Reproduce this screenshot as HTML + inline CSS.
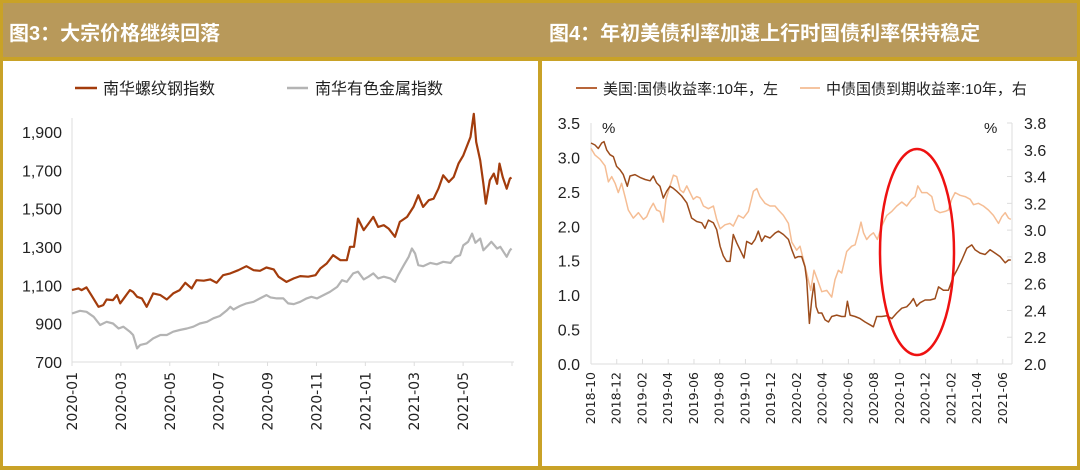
<!DOCTYPE html>
<html><head><meta charset="utf-8">
<style>
html,body{margin:0;padding:0;width:1080px;height:470px;overflow:hidden;background:#fff;}
svg{display:block;font-family:"Liberation Sans","Noto Sans CJK SC",sans-serif;}
</style></head>
<body>
<svg id="root" width="1080" height="470" viewBox="0 0 1080 470">
  <rect x="0" y="0" width="1080" height="470" fill="#c9a227"/>
  <rect x="3" y="3" width="1074" height="54" fill="#b8995a"/>
  <rect x="3" y="61" width="535" height="405" fill="#fff"/>
  <rect x="542" y="61" width="535" height="405" fill="#fff"/>
  <text x="9" y="40" fill="#fff" font-size="20" font-weight="bold">图3：大宗价格继续回落</text>
  <text x="549" y="40" fill="#fff" font-size="20" font-weight="bold">图4：年初美债利率加速上行时国债利率保持稳定</text>

  <g>
    <line x1="75" y1="88" x2="97" y2="88" stroke="#a33c0c" stroke-width="2.5"/>
    <text x="103" y="94" font-size="16" fill="#222">南华螺纹钢指数</text>
    <line x1="287" y1="88" x2="308" y2="88" stroke="#b4b4b4" stroke-width="2.5"/>
    <text x="315" y="94" font-size="16" fill="#222">南华有色金属指数</text>
  </g>
  <g>
    <line x1="576" y1="88" x2="597" y2="88" stroke="#b8663a" stroke-width="2"/>
    <text x="603" y="94" font-size="15" fill="#222">美国:国债收益率:10年，左</text>
    <line x1="800" y1="88" x2="820" y2="88" stroke="#f5c4a0" stroke-width="2"/>
    <text x="826" y="94" font-size="15" fill="#222">中债国债到期收益率:10年，右</text>
  </g>
  <g id="left-chart"></g>
  <g id="right-chart"></g>
</svg>
<script>
// ---- Left chart data (days since 2020-01-01) ----
const rebarDays = [0,8,12,18,24,33,39,43,51,56,60,66,72,76,81,87,93,101,110,118,126,134,141,149,155,164,172,180,188,197,207,217,226,234,242,251,257,267,276,284,294,303,309,317,325,334,342,346,351,356,363,369,375,381,388,394,402,408,417,425,431,437,444,450,456,462,469,475,481,487,496,500,503,508,512,515,520,525,529,532,536,541,545,547];
const rebarValues = [1075,1084,1075,1089,1049,988,997,1026,1023,1049,1006,1040,1075,1066,1040,1032,988,1058,1049,1026,1058,1075,1113,1084,1127,1124,1131,1113,1153,1162,1179,1200,1179,1176,1193,1183,1145,1118,1136,1148,1145,1153,1188,1214,1257,1231,1231,1301,1301,1448,1388,1422,1457,1405,1414,1396,1353,1431,1457,1509,1570,1509,1544,1552,1604,1674,1639,1665,1735,1778,1874,1995,1848,1752,1630,1526,1648,1683,1630,1735,1665,1604,1657,1662];
const metalsDays = [0,10,18,27,35,43,51,58,64,72,76,81,85,93,101,110,118,126,134,143,151,159,168,176,184,193,197,201,209,217,226,234,242,247,255,263,269,276,284,292,298,305,313,321,330,336,342,350,356,363,369,375,381,388,396,402,406,413,419,423,427,431,437,446,454,462,471,477,483,487,493,498,502,508,512,518,522,529,533,537,541,545,547];
const metalsValues = [953,967,962,936,893,910,901,875,884,858,841,771,789,797,823,841,841,858,867,875,884,901,910,928,940,971,988,974,992,1006,1014,1032,1049,1037,1032,1032,1006,1002,1014,1032,1040,1032,1049,1066,1092,1127,1118,1162,1171,1131,1145,1162,1136,1145,1136,1118,1153,1205,1249,1292,1266,1205,1200,1217,1210,1223,1217,1249,1257,1309,1327,1370,1322,1344,1283,1309,1327,1292,1301,1275,1249,1283,1292];
const leftYTicks = [700,900,1100,1300,1500,1700,1900];
const leftXTickLabels = ["2020-01","2020-03","2020-05","2020-07","2020-09","2020-11","2021-01","2021-03","2021-05"];

// ---- Right chart data (months since 2018-10) ----
const usMonths = [0,0.31,0.57,0.83,1.01,1.22,1.48,1.74,1.99,2.25,2.51,2.82,3.03,3.42,3.81,4.2,4.59,4.84,5.1,5.36,5.62,5.88,6.14,6.4,6.66,7.05,7.44,7.82,8.21,8.6,8.86,9.12,9.51,9.77,10.03,10.28,10.54,10.8,11.06,11.32,11.58,11.89,12.1,12.49,12.75,13.0,13.26,13.52,13.91,14.3,14.56,14.95,15.34,15.6,15.85,16.11,16.37,16.63,16.76,16.97,17.15,17.33,17.49,17.67,17.93,18.19,18.45,18.7,19.09,19.48,19.74,19.92,20.13,20.52,20.91,21.3,21.68,21.94,22.2,22.59,22.98,23.37,23.76,24.15,24.53,24.79,25.05,25.31,25.57,25.96,26.35,26.74,27.0,27.38,27.77,28.16,28.42,28.81,29.2,29.59,29.84,30.23,30.62,31.01,31.4,31.79,32.18,32.44,32.62];
const usValues = [3.21,3.18,3.13,3.21,3.23,3.11,3.04,3.01,2.87,2.82,2.75,2.58,2.73,2.75,2.71,2.68,2.66,2.73,2.63,2.58,2.41,2.51,2.58,2.55,2.51,2.44,2.34,2.12,2.07,2.05,1.97,2.09,2.05,1.95,1.71,1.57,1.49,1.49,1.88,1.76,1.66,1.54,1.78,1.74,1.81,1.93,1.78,1.86,1.83,1.9,1.93,1.88,1.81,1.66,1.54,1.56,1.56,1.41,1.22,0.59,0.93,1.17,0.83,0.74,0.74,0.64,0.61,0.69,0.71,0.69,0.69,0.91,0.71,0.69,0.66,0.61,0.57,0.54,0.69,0.69,0.7,0.66,0.74,0.81,0.83,0.88,0.95,0.84,0.89,0.93,0.93,0.95,1.12,1.07,1.07,1.27,1.36,1.51,1.68,1.73,1.66,1.61,1.59,1.66,1.61,1.56,1.47,1.51,1.51];
const cnMonths = [0,0.31,0.7,1.09,1.35,1.61,1.87,2.12,2.38,2.64,2.9,3.29,3.68,4.07,4.33,4.59,4.84,5.1,5.36,5.62,5.83,6.14,6.4,6.66,6.92,7.18,7.44,7.69,7.95,8.21,8.47,8.73,9.12,9.51,9.77,10.03,10.41,10.8,11.06,11.45,11.84,12.23,12.62,12.88,13.13,13.52,13.91,14.3,14.56,14.95,15.34,15.6,15.98,16.24,16.5,16.76,17.07,17.33,17.59,17.93,18.32,18.7,18.96,19.22,19.48,19.87,20.26,20.52,20.78,20.98,21.17,21.42,21.68,21.94,22.25,22.59,22.98,23.37,23.76,24.15,24.53,24.92,25.18,25.39,25.7,26.09,26.48,26.74,27.12,27.51,27.77,28.03,28.29,28.68,29.07,29.46,29.72,30.1,30.49,30.88,31.27,31.66,31.92,32.18,32.44,32.62];
const cnValues = [3.61,3.56,3.53,3.48,3.36,3.40,3.35,3.28,3.35,3.25,3.15,3.09,3.13,3.08,3.10,3.16,3.20,3.15,3.14,3.06,3.23,3.33,3.41,3.40,3.30,3.28,3.33,3.28,3.23,3.25,3.24,3.18,3.16,3.18,3.08,3.01,3.04,3.05,3.03,3.11,3.09,3.14,3.29,3.31,3.25,3.20,3.18,3.18,3.15,3.11,3.05,2.91,2.85,2.88,2.78,2.68,2.55,2.70,2.63,2.54,2.55,2.50,2.63,2.70,2.68,2.84,2.88,2.89,2.98,3.06,2.98,2.93,2.96,2.98,2.93,3.03,3.11,3.14,3.18,3.21,3.18,3.23,3.25,3.33,3.28,3.28,3.25,3.15,3.13,3.14,3.15,3.23,3.28,3.26,3.25,3.23,3.19,3.20,3.18,3.15,3.11,3.05,3.10,3.13,3.09,3.08];
const rightLeftTicks = ["0.0","0.5","1.0","1.5","2.0","2.5","3.0","3.5"];
const rightRightTicks = ["2.0","2.2","2.4","2.6","2.8","3.0","3.2","3.4","3.6","3.8"];
const rightXTickLabels = ["2018-10","2018-12","2019-02","2019-04","2019-06","2019-08","2019-10","2019-12","2020-02","2020-04","2020-06","2020-08","2020-10","2020-12","2021-02","2021-04","2021-06"];

const NS = "http://www.w3.org/2000/svg";
function mk(tag, attrs, parent){const e=document.createElementNS(NS,tag);for(const k in attrs)e.setAttribute(k,attrs[k]);parent.appendChild(e);return e;}

// ---- Left chart ----
(function(){
  const g = document.getElementById('left-chart');
  const x0=72, x1=512, yTop=132, yBot=362;
  const xDay = d => x0 + d*(x1-x0)/547.6;
  const yVal = v => yBot - (v-700)*(yBot-yTop)/1200;
  const ax = mk('line',{x1:x0,y1:118,x2:x0,y2:yBot,stroke:'#ddd','stroke-width':1},g);
   
  const bx = mk('line',{x1:x0,y1:yBot,x2:x1+2,y2:yBot,stroke:'#ddd','stroke-width':1},g);
   
  leftYTicks.forEach(v=>{
    const t=mk('text',{x:62,y:yVal(v)+6,'text-anchor':'end','font-size':16,fill:'#222'},g);
    t.textContent=v.toLocaleString('en-US');
     
  });
  for(let i=0;i<10;i++){
    const x=x0+i*(x1-x0)/9;
    const tk=mk('line',{x1:x,y1:yBot,x2:x,y2:yBot+4,stroke:'#ddd'},g);
     
  }
  leftXTickLabels.forEach((s,i)=>{
    const x=x0+i*(x1-x0)/9;
    const t=mk('text',{x:0,y:0,'font-size':14,'font-family':'"DejaVu Sans",sans-serif',fill:'#222','text-anchor':'end',transform:`translate(${x+5},${372}) rotate(-90)`},g);
    t.textContent=s;
     
  });
  const m = mk('polyline',{points:metalsDays.map((d,i)=>xDay(d).toFixed(1)+','+yVal(metalsValues[i]).toFixed(1)).join(' '),fill:'none',stroke:'#b4b4b4','stroke-width':2.2,'stroke-linejoin':'round'},g);
   
  const r = mk('polyline',{points:rebarDays.map((d,i)=>xDay(d).toFixed(1)+','+yVal(rebarValues[i]).toFixed(1)).join(' '),fill:'none',stroke:'#a33c0c','stroke-width':2.2,'stroke-linejoin':'round'},g);
   
})();

// ---- Right chart ----
(function(){
  const g = document.getElementById('right-chart');
  const x0=591, x1=1012, yTop=123, yBot=364;
  const pxPerMonth = 12.87;
  const xM = m => x0 + m*pxPerMonth;
  const yL = v => yBot - v*(yBot-yTop)/3.5;
  const yR = v => yBot - (v-2)*(yBot-yTop)/1.8;
  const a1=mk('line',{x1:x0,y1:yTop,x2:x0,y2:yBot,stroke:'#ddd'},g);
   
  const a2=mk('line',{x1:x1,y1:yTop,x2:x1,y2:yBot,stroke:'#ddd'},g);
   
  const a3=mk('line',{x1:x0,y1:yBot,x2:x1,y2:yBot,stroke:'#ddd'},g);
   
  rightLeftTicks.forEach(s=>{
    const t=mk('text',{x:580,y:yL(parseFloat(s))+6,'text-anchor':'end','font-size':16,fill:'#222'},g);
    t.textContent=s;
     
  });
  rightRightTicks.forEach(s=>{
    const y=yR(parseFloat(s));
    const tk=mk('line',{x1:x1-5,y1:y,x2:x1,y2:y,stroke:'#ddd'},g);
     
    const t=mk('text',{x:1024,y:y+6,'font-size':16,fill:'#222'},g);
    t.textContent=s;
     
  });
  const p1=mk('text',{x:602,y:133,'font-size':15,fill:'#222'},g); p1.textContent='%';
   
  const p2=mk('text',{x:984,y:133,'font-size':15,fill:'#222'},g); p2.textContent='%';
   
  rightXTickLabels.forEach((s,i)=>{
    const x=xM(i*2);
    const tk=mk('line',{x1:x,y1:yBot,x2:x,y2:yBot-5,stroke:'#ddd'},g);
     
    const t=mk('text',{x:0,y:0,'font-size':12.5,'font-family':'"DejaVu Sans",sans-serif',fill:'#222','text-anchor':'end',transform:`translate(${x+4},${372}) rotate(-90)`},g);
    t.textContent=s;
     
  });
  const c = mk('polyline',{points:cnMonths.map((m,i)=>xM(m).toFixed(1)+','+yR(cnValues[i]).toFixed(1)).join(' '),fill:'none',stroke:'#f5bd94','stroke-width':1.5,'stroke-linejoin':'round'},g);
   
  const u = mk('polyline',{points:usMonths.map((m,i)=>xM(m).toFixed(1)+','+yL(usValues[i]).toFixed(1)).join(' '),fill:'none',stroke:'#9c4c1c','stroke-width':1.5,'stroke-linejoin':'round'},g);
   
  const e = mk('ellipse',{cx:917,cy:252,rx:37,ry:103,fill:'none',stroke:'#ee1111','stroke-width':2.5},g);
   
})();
</script>
</body></html>
